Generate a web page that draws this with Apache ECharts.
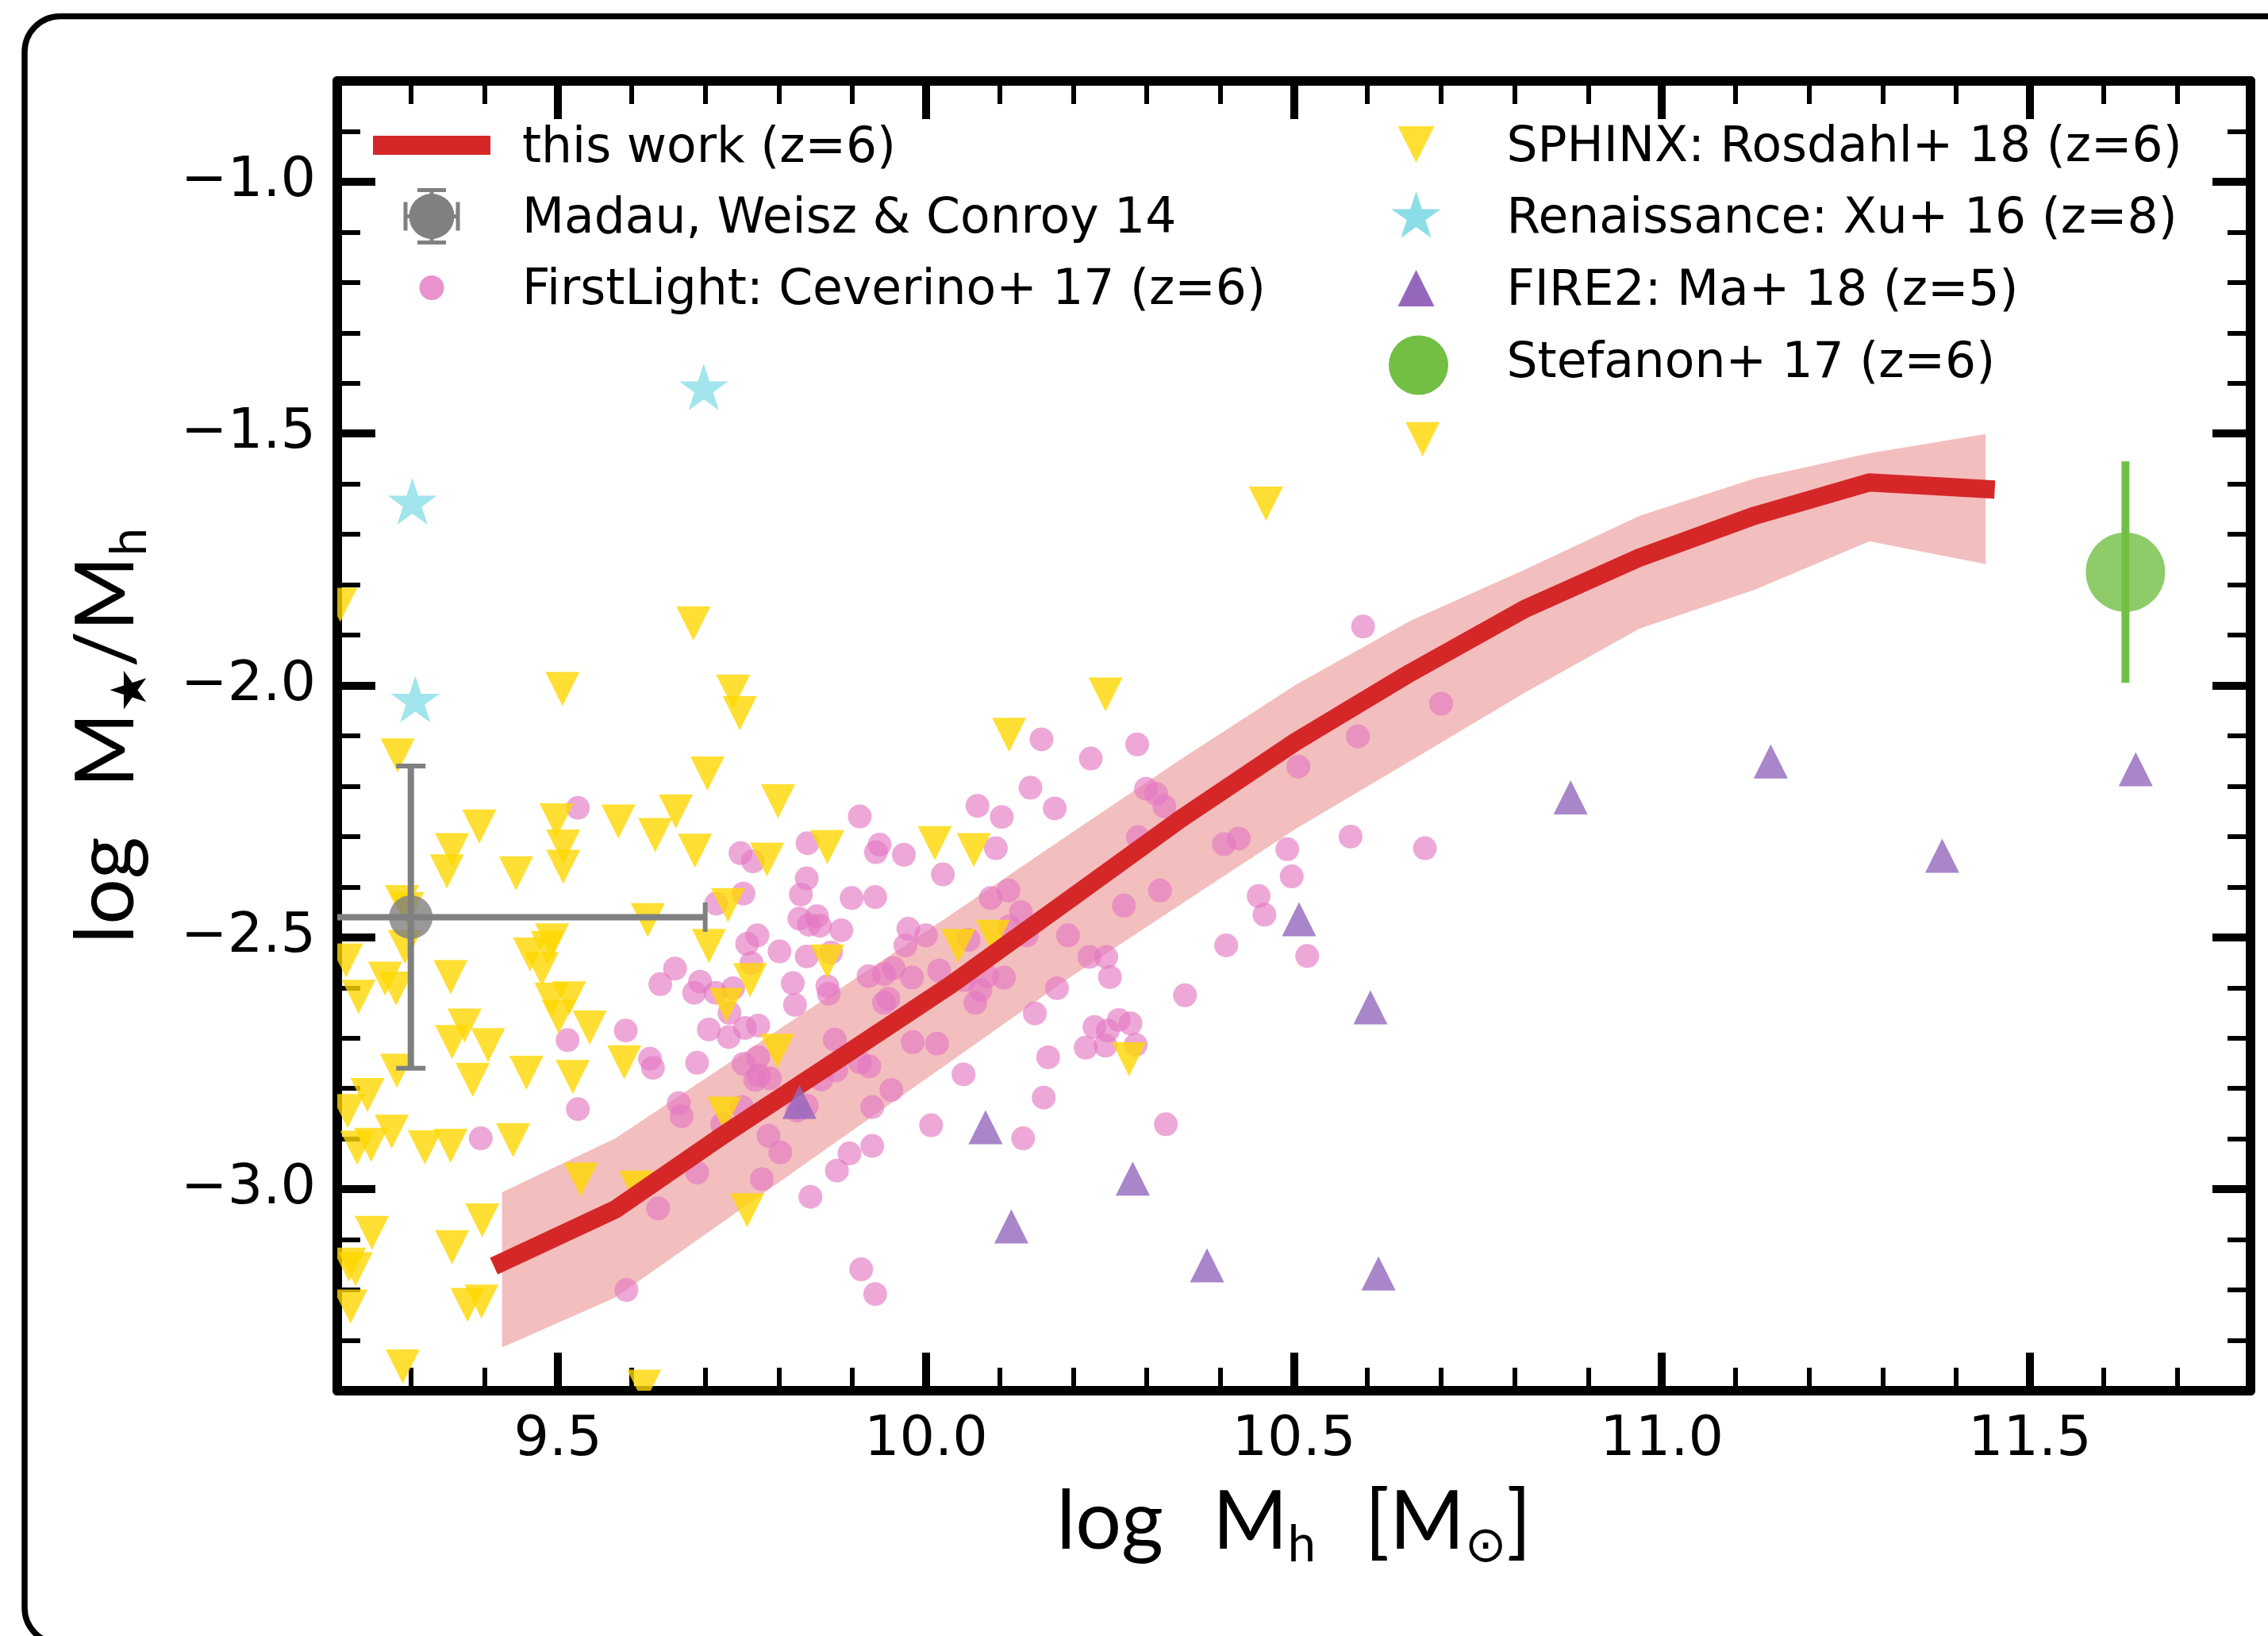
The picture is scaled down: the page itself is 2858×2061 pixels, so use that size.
<!DOCTYPE html>
<html><head><meta charset="utf-8">
<script src="https://cdn.jsdelivr.net/npm/echarts@6.0.0/dist/echarts.min.js"></script>
<style>html,body{margin:0;padding:0;background:#fff}#c{width:2858px;height:2061px}</style>
</head><body><div id="c"></div>
<script>
// ---------------- data ----------------
const xTickLabels = ['9.5', '10.0', '10.5', '11.0', '11.5'];
const yTickLabels = ['\u22121.0', '\u22121.5', '\u22122.0', '\u22122.5', '\u22123.0'];

const thisWorkX = [9.424, 9.578, 9.722, 9.878, 10.034, 10.19, 10.346, 10.502, 10.658, 10.814, 10.97, 11.126, 11.282, 11.44];
const thisWorkY = [-3.145, -3.04, -2.895, -2.745, -2.594, -2.43, -2.265, -2.112, -1.975, -1.848, -1.746, -1.663, -1.597, -1.61];
const bandUpper = [-3.006, -2.899, -2.759, -2.607, -2.455, -2.300, -2.147, -1.999, -1.872, -1.770, -1.663, -1.589, -1.539, -1.501];
const bandLower = [-3.314, -3.215, -3.067, -2.906, -2.746, -2.585, -2.435, -2.285, -2.150, -2.014, -1.887, -1.810, -1.714, -1.759];

const madau = [[9.30, -2.46]];
const madauXErr = [0.4];
const madauYErr = [0.3];

const stefanon = [[11.63, -1.775]];
const stefanonYErr = [0.22];

const renaissance = [[9.302, -1.639], [9.306, -2.032], [9.698, -1.412]];

const fire2 = [[9.828, -2.827], [10.081, -2.877], [10.116, -3.074], [10.281, -2.979], [10.382, -3.151], [10.507, -2.464],
  [10.604, -2.639], [10.615, -3.167], [10.876, -2.222], [11.148, -2.151], [11.381, -2.338], [11.644, -2.166]];

const sphinx = [
  [9.204, -1.840], [9.684, -1.877], [9.506, -2.007], [9.282, -2.139], [9.703, -2.175],
  [9.393, -2.280], [9.498, -2.268], [9.356, -2.327], [9.349, -2.369], [9.443, -2.373],
  [9.507, -2.320], [9.507, -2.360], [9.582, -2.270], [9.632, -2.297], [9.660, -2.250],
  [9.686, -2.328], [9.288, -2.430], [9.295, -2.444], [9.622, -2.466],
  [9.292, -2.519], [9.212, -2.546], [9.265, -2.582], [9.280, -2.602], [9.229, -2.618],
  [9.354, -2.579], [9.462, -2.534], [9.486, -2.521], [9.492, -2.506], [9.478, -2.563],
  [9.705, -2.517], [9.491, -2.624], [9.515, -2.621], [9.501, -2.658], [9.543, -2.679],
  [9.373, -2.675], [9.356, -2.708], [9.405, -2.714], [9.384, -2.783], [9.281, -2.765],
  [9.457, -2.769], [9.520, -2.777], [9.590, -2.748], [9.241, -2.813], [9.214, -2.845],
  [9.274, -2.886], [9.227, -2.918], [9.246, -2.912], [9.319, -2.917], [9.354, -2.914],
  [9.439, -2.903], [9.531, -2.981], [9.606, -2.997], [9.397, -3.062], [9.247, -3.087],
  [9.356, -3.115], [9.216, -3.150], [9.225, -3.159], [9.218, -3.233], [9.377, -3.230],
  [9.396, -3.223], [9.289, -3.352], [9.617, -3.392],
  [9.738, -2.012], [9.747, -2.055], [9.799, -2.230], [9.784, -2.346], [9.866, -2.321],
  [10.012, -2.313], [10.065, -2.327], [10.113, -2.098], [9.731, -2.436], [9.761, -2.585],
  [9.866, -2.548], [9.729, -2.634], [10.044, -2.517], [10.091, -2.499], [9.798, -2.725],
  [9.726, -2.850], [9.757, -3.042], [10.244, -2.018], [10.276, -2.742],
  [10.462, -1.639], [10.675, -1.511]
];

const firstLight = [
  [9.527, -2.243],
  [9.659, -2.562], [9.639, -2.593], [9.693, -2.588], [9.685, -2.610], [9.592, -2.685], [9.513, -2.704],
  [9.625, -2.741], [9.629, -2.759], [9.689, -2.749], [9.527, -2.841], [9.395, -2.899], [9.664, -2.829],
  [9.668, -2.855], [9.689, -2.967], [9.636, -3.038], [9.593, -3.200],
  [10.157, -2.107], [10.142, -2.203], [10.070, -2.239], [10.103, -2.261], [10.175, -2.244], [10.095, -2.323],
  [9.910, -2.260], [9.937, -2.316], [9.932, -2.331], [9.970, -2.336], [10.023, -2.375], [9.839, -2.313],
  [9.748, -2.333], [9.765, -2.349], [9.838, -2.383], [9.830, -2.415], [9.752, -2.413], [9.715, -2.433],
  [9.899, -2.422], [9.931, -2.420], [9.828, -2.463], [9.852, -2.458], [9.841, -2.475], [9.856, -2.477],
  [9.885, -2.486], [9.771, -2.496], [9.757, -2.513], [9.801, -2.528], [9.838, -2.538], [9.871, -2.530],
  [9.714, -2.610], [9.738, -2.601], [9.763, -2.551], [9.819, -2.591], [9.822, -2.634], [9.866, -2.597],
  [9.868, -2.612], [9.733, -2.650], [9.705, -2.683], [9.732, -2.698], [9.754, -2.680], [9.772, -2.675],
  [9.752, -2.751], [9.772, -2.738], [9.876, -2.703], [9.910, -2.748], [9.923, -2.756], [9.922, -2.577],
  [9.943, -2.573], [9.956, -2.561], [9.981, -2.580], [9.949, -2.622], [9.943, -2.630], [9.976, -2.483],
  [10.000, -2.496], [9.972, -2.516], [10.018, -2.566], [10.052, -2.585], [10.074, -2.605], [10.067, -2.630],
  [10.106, -2.580], [10.088, -2.422], [10.112, -2.407], [10.129, -2.450], [10.113, -2.478], [10.137, -2.496],
  [10.193, -2.496], [10.058, -2.505], [10.083, -2.577], [10.178, -2.601], [10.148, -2.651], [9.982, -2.708],
  [10.015, -2.711], [10.166, -2.738], [10.051, -2.772],
  [9.773, -2.774], [9.788, -2.780], [9.768, -2.783], [9.878, -2.764], [9.858, -2.782], [9.750, -2.837],
  [9.723, -2.871], [9.838, -2.834], [9.825, -2.844], [9.786, -2.894], [9.802, -2.927], [9.777, -2.980],
  [9.953, -2.803], [9.927, -2.837], [9.896, -2.929], [9.927, -2.914], [9.879, -2.963], [9.843, -3.015],
  [10.007, -2.873], [10.160, -2.818], [10.132, -2.899], [9.912, -3.159], [9.931, -3.208],
  [10.594, -1.883], [10.224, -2.145], [10.287, -2.117], [10.299, -2.205], [10.313, -2.215], [10.324, -2.240],
  [10.288, -2.301], [10.506, -2.161], [10.587, -2.101], [10.700, -2.036], [10.405, -2.315], [10.425, -2.304],
  [10.491, -2.325], [10.497, -2.379], [10.577, -2.300], [10.678, -2.323], [10.452, -2.418], [10.460, -2.455],
  [10.518, -2.537], [10.408, -2.516], [10.318, -2.407], [10.269, -2.437], [10.222, -2.539], [10.245, -2.539],
  [10.250, -2.579], [10.352, -2.615], [10.229, -2.678], [10.247, -2.685], [10.262, -2.664], [10.278, -2.671],
  [10.217, -2.719], [10.244, -2.715], [10.285, -2.713], [10.326, -2.871]
];

const legendLeft = ['this work (z=6)', 'Madau, Weisz & Conroy 14', 'FirstLight: Ceverino+ 17 (z=6)'];
const legendRight = ['SPHINX: Rosdahl+ 18 (z=6)', 'Renaissance: Xu+ 16 (z=8)', 'FIRE2: Ma+ 18 (z=5)', 'Stefanon+ 17 (z=6)'];

// ---------------- styles ----------------
const RED = '#d62728', PINK = 'rgba(227,119,194,0.8)', GOLD = 'rgba(255,215,0,0.8)',
      PURPLE = '#9467bd', CYAN = 'rgba(23,190,207,0.5)', GRAY = '#808080', GREEN = '#72bf44';
const FONT = '"DejaVu Sans", sans-serif';
const TFONT = 'Lato, "DejaVu Sans", sans-serif';

function starPts(cx, cy, R) {
  const pts = [];
  for (let k = 0; k < 10; k++) {
    const a = Math.PI / 2 + k * Math.PI / 5;
    const r = (k % 2 === 0) ? R : R * 0.381966;
    pts.push([cx + r * Math.cos(a), cy - r * Math.sin(a)]);
  }
  return pts;
}
const starPath = 'path://' + starPts(100, 100, 100).map((p, i) => (i ? 'L' : 'M') + p[0].toFixed(2) + ' ' + p[1].toFixed(2)).join(' ') + ' Z';

function fmtX(v) { const s = v.toFixed(1); return xTickLabels.includes(s) ? s : ''; }
function fmtY(v) { const s = v.toFixed(1).replace('-', '\u2212'); return yTickLabels.includes(s) ? s : ''; }

function axisBase(extra) {
  return Object.assign({
    type: 'value', splitNumber: 5, scale: true,
    axisLine: { show: true, onZero: false, lineStyle: { color: '#000', width: 12 } },
    axisTick: { show: true, inside: true, length: 48, lineStyle: { color: '#000', width: 10 } },
    minorTick: { show: true, splitNumber: 5, length: 29, lineStyle: { color: '#000', width: 6 } },
    splitLine: { show: false }, minorSplitLine: { show: false }
  }, extra);
}

const chart = echarts.init(document.getElementById('c'), null, { renderer: 'canvas' });

// legend graphics
const LX1 = 544, LX2 = 1784.5, TX1 = 658, TX2 = 1898.5;
const rowL = [183, 272.5, 362.5], rowR = [182, 272.5, 363, 454];
const TXT_DY = 5;
const lg = [];
lg.push({ type: 'rect', shape: { x: 470, y: rowL[0] - 12, width: 148, height: 24 }, style: { fill: RED } });
// Madau handle
const mh = { stroke: GRAY, lineWidth: 5 };
lg.push({ type: 'line', shape: { x1: LX1 - 33, y1: rowL[1], x2: LX1 + 33, y2: rowL[1] }, style: mh });
lg.push({ type: 'line', shape: { x1: LX1, y1: rowL[1] - 33, x2: LX1, y2: rowL[1] + 33 }, style: mh });
lg.push({ type: 'line', shape: { x1: LX1 - 18, y1: rowL[1] - 33, x2: LX1 + 18, y2: rowL[1] - 33 }, style: mh });
lg.push({ type: 'line', shape: { x1: LX1 - 18, y1: rowL[1] + 33, x2: LX1 + 18, y2: rowL[1] + 33 }, style: mh });
lg.push({ type: 'line', shape: { x1: LX1 - 33, y1: rowL[1] - 18, x2: LX1 - 33, y2: rowL[1] + 18 }, style: mh });
lg.push({ type: 'line', shape: { x1: LX1 + 33, y1: rowL[1] - 18, x2: LX1 + 33, y2: rowL[1] + 18 }, style: mh });
lg.push({ type: 'circle', shape: { cx: LX1, cy: rowL[1], r: 28.5 }, style: { fill: GRAY } });
lg.push({ type: 'circle', shape: { cx: LX1, cy: rowL[2], r: 15.5 }, style: { fill: PINK } });
lg.push({ type: 'polygon', shape: { points: [[LX2 - 23, rowR[0] - 23], [LX2 + 23, rowR[0] - 23], [LX2, rowR[0] + 23]] }, style: { fill: GOLD } });
lg.push({ type: 'polygon', shape: { points: starPts(LX2, rowR[1] + 1, 32.6) }, style: { fill: CYAN } });
lg.push({ type: 'polygon', shape: { points: [[LX2, rowR[2] - 23], [LX2 - 23, rowR[2] + 23], [LX2 + 23, rowR[2] + 23]] }, style: { fill: PURPLE } });
lg.push({ type: 'circle', shape: { cx: LX2 + 3, cy: rowR[3] + 6, r: 37.5 }, style: { fill: GREEN } });
legendLeft.forEach((t, i) => lg.push({ type: 'text', x: TX1, y: rowL[i] + TXT_DY, style: { text: t, fontSize: 61.5, fontFamily: FONT, fill: '#000', align: 'left', verticalAlign: 'middle' } }));
legendRight.forEach((t, i) => lg.push({ type: 'text', x: TX2, y: rowR[i] + TXT_DY, style: { text: t, fontSize: 61.5, fontFamily: FONT, fill: '#000', align: 'left', verticalAlign: 'middle' } }));
lg.forEach(e => { e.z = 100; });

const titleRich = {
  a: { fontFamily: TFONT, fontSize: 102, lineHeight: 120, color: '#000' },
  s: { fontFamily: TFONT, fontSize: 63, lineHeight: 62, verticalAlign: 'bottom', color: '#000' },
  g: { fontFamily: TFONT, fontSize: 102, lineHeight: 120, width: 62 }
};

const option = {
  animation: false,
  backgroundColor: '#fff',
  grid: { left: 425, top: 102, right: 22, bottom: 309, containLabel: false },
  xAxis: [
    axisBase({
      position: 'bottom', min: 9.2, max: 11.8,
      axisLabel: { show: true, margin: 28, fontSize: 70, lineHeight: 70, fontFamily: FONT, color: '#000', formatter: fmtX, showMinLabel: false, showMaxLabel: false },
      name: '{a|log}{g| }{a|M}{s|h}{g| }{a|[M}{s|\u2299}{a|]}',
      nameLocation: 'middle', nameGap: 106,
      nameTextStyle: { rich: titleRich }
    }),
    axisBase({ position: 'top', min: 9.2, max: 11.8, axisLabel: { show: false } })
  ],
  yAxis: [
    axisBase({
      position: 'left', min: -3.4, max: -0.8,
      axisLabel: { show: true, margin: 27, fontSize: 70, fontFamily: FONT, color: '#000', formatter: fmtY, showMinLabel: false, showMaxLabel: false },
      name: '{a|log}{g| }{a|M}{s|\u2605}{a|/M}{s|h}',
      nameLocation: 'middle', nameGap: 230,
      nameTextStyle: { rich: titleRich }
    }),
    axisBase({ position: 'right', min: -3.4, max: -0.8, axisLabel: { show: false } })
  ],
  graphic: [
    { type: 'rect', z: 0, shape: { x: 31, y: 20.5, width: 3000, height: 2050, r: 45 }, style: { fill: 'none', stroke: '#000', lineWidth: 7.5 } }
  ].concat(lg),
  series: [
    {
      name: 'band', type: 'custom', coordinateSystem: 'cartesian2d', z: 1, silent: true, clip: true,
      data: [[thisWorkX[0], thisWorkY[0]]],
      renderItem: function (params, api) {
        const pts = [];
        for (let i = 0; i < thisWorkX.length; i++) pts.push(api.coord([thisWorkX[i], bandUpper[i]]));
        for (let i = thisWorkX.length - 1; i >= 0; i--) pts.push(api.coord([thisWorkX[i], bandLower[i]]));
        return { type: 'polygon', shape: { points: pts }, style: { fill: 'rgba(214,39,40,0.3)' } };
      }
    },
    {
      name: 'FirstLight: Ceverino+ 17 (z=6)', type: 'scatter', z: 2, data: firstLight,
      symbol: 'circle', symbolSize: 30, itemStyle: { color: PINK }
    },
    {
      name: 'SPHINX: Rosdahl+ 18 (z=6)', type: 'custom', coordinateSystem: 'cartesian2d', z: 3, clip: true,
      data: sphinx, encode: { x: 0, y: 1 },
      renderItem: function (params, api) {
        const p = api.coord([api.value(0), api.value(1)]);
        const h = 21.5;
        return { type: 'polygon', shape: { points: [[p[0] - h, p[1] - h], [p[0] + h, p[1] - h], [p[0], p[1] + h]] }, style: { fill: GOLD } };
      }
    },
    {
      name: 'this work (z=6)', type: 'line', z: 4, data: thisWorkX.map((x, i) => [x, thisWorkY[i]]),
      symbol: 'none', lineStyle: { color: RED, width: 23, cap: 'square', join: 'round' }
    },
    {
      name: 'FIRE2: Ma+ 18 (z=5)', type: 'scatter', z: 5, data: fire2,
      symbol: 'triangle', symbolSize: 43, itemStyle: { color: PURPLE }
    },
    {
      name: 'Renaissance: Xu+ 16 (z=8)', type: 'scatter', z: 5, data: renaissance,
      symbol: starPath, symbolSize: [62, 59], symbolOffset: [0, -3], itemStyle: { color: CYAN }
    },
    {
      name: 'Madau errors', type: 'custom', coordinateSystem: 'cartesian2d', z: 6, clip: true,
      data: madau.map((d, i) => [d[0], d[1], madauXErr[i], madauYErr[i]]), encode: { x: 0, y: 1 },
      renderItem: function (params, api) {
        const x = api.value(0), y = api.value(1), ex = api.value(2), ey = api.value(3);
        const l = api.coord([x - ex, y]), r = api.coord([x + ex, y]);
        const t = api.coord([x, y + ey]), b = api.coord([x, y - ey]);
        const st = { stroke: GRAY, lineWidth: 8 }, cs = { stroke: GRAY, lineWidth: 6 };
        const c = 18.5;
        return {
          type: 'group', children: [
            { type: 'line', shape: { x1: l[0], y1: l[1], x2: r[0], y2: r[1] }, style: st },
            { type: 'line', shape: { x1: t[0], y1: t[1], x2: b[0], y2: b[1] }, style: st },
            { type: 'line', shape: { x1: t[0] - c, y1: t[1], x2: t[0] + c, y2: t[1] }, style: cs },
            { type: 'line', shape: { x1: b[0] - c, y1: b[1], x2: b[0] + c, y2: b[1] }, style: cs },
            { type: 'line', shape: { x1: l[0], y1: l[1] - c, x2: l[0], y2: l[1] + c }, style: cs },
            { type: 'line', shape: { x1: r[0], y1: r[1] - c, x2: r[0], y2: r[1] + c }, style: cs }
          ]
        };
      }
    },
    {
      name: 'Madau, Weisz & Conroy 14', type: 'scatter', z: 7, data: madau,
      symbol: 'circle', symbolSize: 55, itemStyle: { color: GRAY }
    },
    {
      name: 'Stefanon errors', type: 'custom', coordinateSystem: 'cartesian2d', z: 6, clip: true,
      data: stefanon.map((d, i) => [d[0], d[1], stefanonYErr[i]]), encode: { x: 0, y: 1 },
      renderItem: function (params, api) {
        const x = api.value(0), y = api.value(1), ey = api.value(2);
        const t = api.coord([x, y + ey]), b = api.coord([x, y - ey]);
        return { type: 'line', shape: { x1: t[0], y1: t[1], x2: b[0], y2: b[1] }, style: { stroke: GREEN, lineWidth: 10 } };
      }
    },
    {
      name: 'Stefanon+ 17 (z=6)', type: 'scatter', z: 7, data: stefanon,
      symbol: 'circle', symbolSize: 100, itemStyle: { color: GREEN }
    }
  ]
};
chart.setOption(option);
</script>
</body></html>
